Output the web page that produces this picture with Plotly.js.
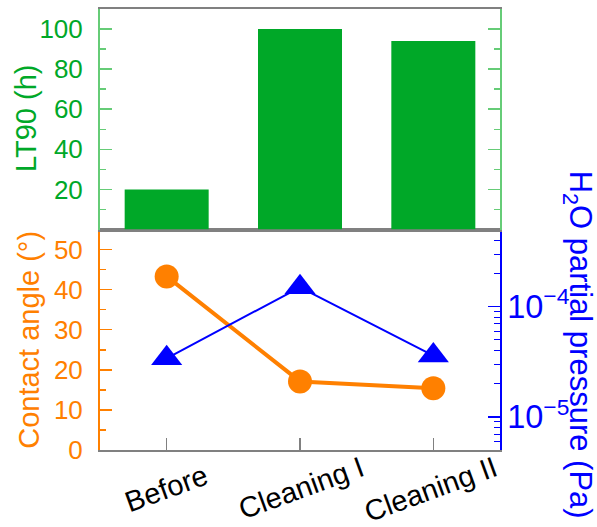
<!DOCTYPE html>
<html>
<head>
<meta charset="utf-8">
<script src="https://cdn.plot.ly/plotly-3.0.1.min.js"></script>
<style>html,body{margin:0;padding:0;background:#fff;}</style>
</head>
<body>
<div id="chart" style="width:597px;height:527px;"></div>
<script>
// ---- data ----
const categories = ["Before", "Cleaning I", "Cleaning II"];
const tickLabels = ["Before\u00A0\u00A0\u00A0", "Cleaning I", "Cleaning II"];
const lt90Hours = [20, 100, 94];
const contactAngle = [43.3, 17.1, 15.4];
const h2oPressure = [3.4e-5, 1.5e-4, 3.6e-5];
const lt90Ticks = [20, 40, 60, 80, 100];
const lt90Minor = [10, 30, 50, 70, 90];

const FONT = "Liberation Sans, Arial, sans-serif";
const GREEN = "#00A828", GREEN_AX = "#66CC77";
const ORANGE = "#FF8000", BLUE = "#0000FF", GRAY = "#808080";

const traces = [
  {type: "bar", x: categories, y: lt90Hours, xaxis: "x2", yaxis: "y2",
   width: 0.63, marker: {color: GREEN}, hoverinfo: "skip"},
  {type: "scatter", mode: "lines+markers", x: categories, y: contactAngle,
   xaxis: "x", yaxis: "y", line: {color: ORANGE, width: 4},
   marker: {color: ORANGE, size: 24, symbol: "circle"}},
  {type: "scatter", mode: "lines+markers", x: categories, y: h2oPressure,
   xaxis: "x", yaxis: "y3", line: {color: BLUE, width: 2},
   marker: {color: BLUE, size: 27, symbol: "triangle-up"}}
];

const layout = {
  width: 597, height: 527,
  margin: {l: 100, r: 97, t: 9, b: 77},
  showlegend: false,
  paper_bgcolor: "#fff", plot_bgcolor: "#fff",
  font: {family: FONT, size: 26},
  xaxis: {
    domain: [0, 1], anchor: "y", type: "category", range: [-0.5, 2.5],
    tickvals: categories, ticktext: tickLabels,
    showline: true, linecolor: GRAY, linewidth: 2, mirror: true,
    ticks: "inside", ticklen: 12, tickwidth: 1.5, tickcolor: GRAY,
    tickangle: -20, ticklabelshift: 61, ticklabelstandoff: -11,
    tickfont: {family: FONT, size: 29, color: "#000"},
    showgrid: false, zeroline: false
  },
  xaxis2: {
    domain: [0, 1], anchor: "y2", type: "category", range: [-0.5, 2.5],
    showticklabels: false, ticks: "",
    showline: true, linecolor: GRAY, linewidth: 2, mirror: true,
    showgrid: false, zeroline: false
  },
  yaxis2: {
    domain: [0.5, 1], anchor: "x2", range: [0, 110],
    tickvals: lt90Ticks, ticks: "inside", ticklen: 12, tickwidth: 1.5,
    tickcolor: GREEN_AX, showline: true, linecolor: GREEN_AX, linewidth: 2,
    mirror: "ticks", ticklabelstandoff: 10,
    tickfont: {family: FONT, size: 26, color: GREEN},
    minor: {tickvals: lt90Minor, ticks: "inside", ticklen: 6, tickwidth: 1.5, tickcolor: GREEN_AX},
    showgrid: false, zeroline: false
  },
  yaxis: {
    domain: [0, 0.5], anchor: "x", range: [0, 55],
    tick0: 0, dtick: 10, ticks: "inside", ticklen: 12, tickwidth: 1.5,
    tickcolor: ORANGE, showline: true, linecolor: ORANGE, linewidth: 2,
    ticklabelstandoff: 10,
    tickfont: {family: FONT, size: 26, color: ORANGE},
    minor: {dtick: 5, ticks: "inside", ticklen: 6, tickwidth: 1.5, tickcolor: ORANGE},
    showgrid: false, zeroline: false
  },
  yaxis3: {
    overlaying: "y", side: "right", anchor: "x", type: "log",
    range: [-5.3, -3.3], dtick: 1, exponentformat: "power",
    ticks: "inside", ticklen: 12, tickwidth: 1.5, tickcolor: BLUE,
    showline: true, linecolor: BLUE, linewidth: 2,
    tickfont: {family: FONT, size: 26, color: BLUE},
    minor: {dtick: "D1", ticks: "inside", ticklen: 6, tickwidth: 1, tickcolor: BLUE},
    showgrid: false, zeroline: false
  },
  annotations: [
    {xref: "paper", yref: "paper", x: -0.185, y: 0.7506,
     xanchor: "center", yanchor: "middle", textangle: -90, showarrow: false,
     text: "LT90 (h)", font: {family: FONT, size: 29, color: GREEN}},
    {xref: "paper", yref: "paper", x: -0.178, y: 0.2494,
     xanchor: "center", yanchor: "middle", textangle: -90, showarrow: false,
     text: "Contact angle (°)", font: {family: FONT, size: 29, color: ORANGE}},
    {xref: "paper", yref: "paper", x: 1.195, y: 0.638,
     xanchor: "center", yanchor: "top", textangle: 90, showarrow: false,
     text: "H<sub>2</sub>O partial pressure (Pa)",
     font: {family: FONT, size: 31, color: BLUE}}
  ]
};

Plotly.newPlot("chart", traces, layout, {staticPlot: true, displayModeBar: false});
</script>
</body>
</html>
